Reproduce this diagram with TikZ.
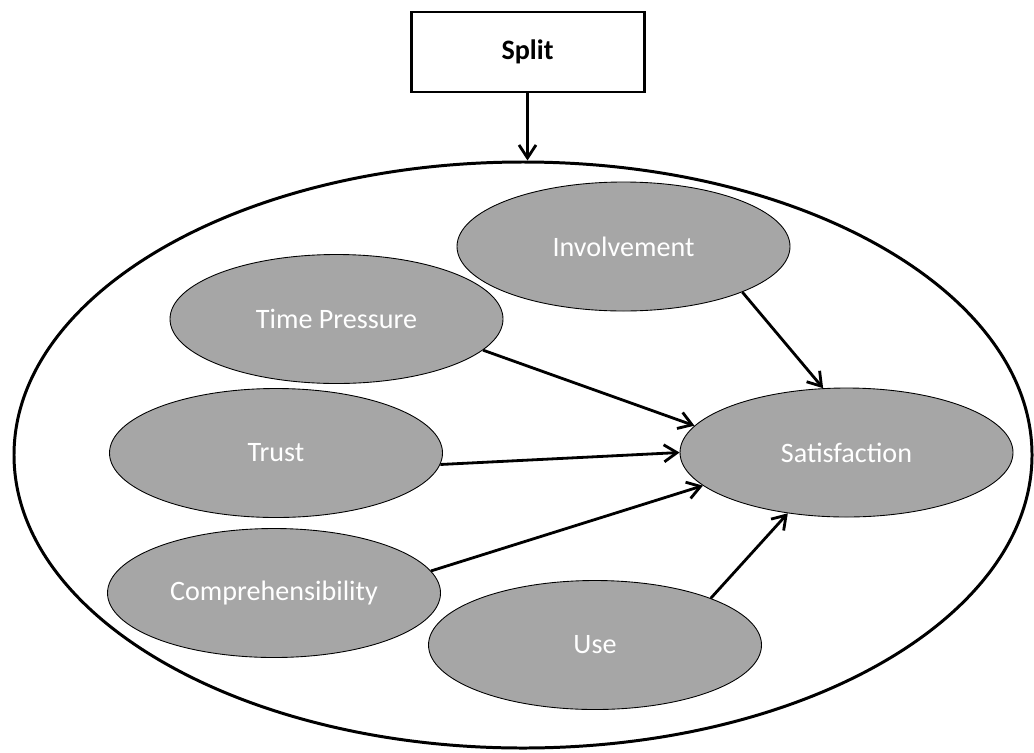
\documentclass[tikz,border=0pt]{standalone}
\usepackage{fontspec}
\setmainfont{Carlito}
\usepackage{tikz}
\usetikzlibrary{shapes.geometric,arrows.meta}

\begin{document}
\begin{tikzpicture}
\tikzstyle{factor}=[ellipse,draw,fill={rgb,255:red,166;green,166;blue,166},line width=0.5pt,text=white,minimum width=6.66cm,minimum height=2.58cm,font=\fontsize{16}{19}\selectfont]

\tikzstyle{link}=[line width=1.6pt,-{Straight Barb[length=2.6mm,width=3.4mm]}]

\useasboundingbox (0,0) rectangle (20.68,-15.04);

\node (split) [draw,line width=1.7pt,minimum width=4.66cm,minimum height=1.6cm,font=\fontsize{16}{19}\selectfont\bfseries] at (10.55,-1.04) {Split};
\node (model) [ellipse,draw,line width=1.7pt,minimum width=20.36cm,minimum height=11.72cm] at (10.46,-9.10) {};

\node (inv) [factor] at (12.47,-4.93) {Involvement};
\node (tp) [factor] at (6.73,-6.38) {Time Pressure};
\node (trust) [factor] at (5.52,-9.06) {Trust};
\node (sat) [factor] at (16.93,-9.05) {Satisfaction};
\node (comp) [factor] at (5.48,-11.86) {Comprehensibility};
\node (use) [factor] at (11.90,-12.90) {Use};

\draw [link] (split.south) -- (split.south |- model.north);

\draw [link] (inv.-21) -- (sat.110);
\draw [link] (tp.-12) -- (sat.170);
\draw [link] (trust.-4) -- (sat.west);
\draw [link] (comp.8) -- (sat.193);
\draw [link] (use.22) -- (sat.-134);

\end{tikzpicture}
\end{document}
